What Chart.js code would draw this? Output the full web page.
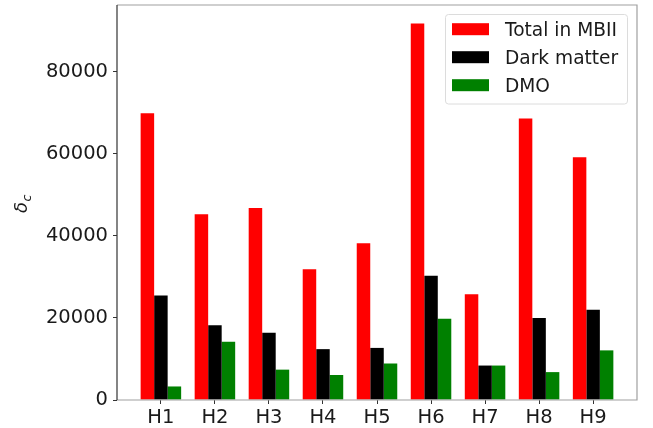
<!DOCTYPE html>
<html>
<head>
<meta charset="utf-8">
<script src="https://cdn.jsdelivr.net/npm/chart.js@4"></script>
<style>
html,body{margin:0;padding:0;background:#fff;}
#wrap{width:653px;height:428px;position:relative;}
</style>
</head>
<body>
<div id="wrap"><canvas id="c" width="653" height="428"></canvas></div>
<script>
const categories = ["H1","H2","H3","H4","H5","H6","H7","H8","H9"];
const totalMBII = [69900, 45300, 46800, 31900, 38200, 91800, 25800, 68600, 59200];
const darkMatter = [25500, 18200, 16400, 12400, 12700, 30300, 8400, 20000, 22000];
const dmo = [3300, 14200, 7400, 6100, 8900, 19800, 8400, 6800, 12100];
const yTicks = [0, 20000, 40000, 60000, 80000];
const seriesNames = ["Total in MBII", "Dark matter", "DMO"];
const seriesColors = ["#ff0000", "#000000", "#008000"];

const FONT = "'DejaVu Sans', sans-serif";
const toPts = arr => arr.map((v, i) => ({x: i, y: v}));

const spinesPlugin = {
  id: 'spines',
  afterDraw(chart) {
    const {ctx, chartArea: a} = chart;
    ctx.save();
    ctx.lineWidth = 1.2;
    ctx.strokeStyle = '#a0a0a0';
    ctx.beginPath();
    ctx.moveTo(a.left, a.top); ctx.lineTo(a.right, a.top);
    ctx.lineTo(a.right, a.bottom); ctx.lineTo(a.left, a.bottom);
    ctx.stroke();
    ctx.strokeStyle = '#333333';
    ctx.beginPath();
    ctx.moveTo(a.left, a.top); ctx.lineTo(a.left, a.bottom);
    ctx.stroke();
    ctx.restore();
  }
};

const legendPlugin = {
  id: 'insideLegend',
  afterDraw(chart) {
    const ctx = chart.ctx;
    ctx.save();
    const bx = 445.5, by = 14.5, bw = 182, bh = 89.5, r = 3;
    ctx.beginPath();
    ctx.moveTo(bx + r, by);
    ctx.arcTo(bx + bw, by, bx + bw, by + bh, r);
    ctx.arcTo(bx + bw, by + bh, bx, by + bh, r);
    ctx.arcTo(bx, by + bh, bx, by, r);
    ctx.arcTo(bx, by, bx + bw, by, r);
    ctx.closePath();
    ctx.fillStyle = 'rgba(255,255,255,0.85)';
    ctx.fill();
    ctx.strokeStyle = '#dcdcdc';
    ctx.lineWidth = 1;
    ctx.stroke();
    ctx.font = '18.6px ' + FONT;
    ctx.textBaseline = 'alphabetic';
    chart.data.datasets.forEach((ds, i) => {
      const cy = 29.2 + i * 28;
      ctx.fillStyle = ds.backgroundColor;
      ctx.fillRect(452, cy - 6, 37, 12);
      ctx.fillStyle = '#1a1a1a';
      ctx.fillText(ds.label, 505, cy + 6.8);
    });
    ctx.restore();
  }
};

const yLabelPlugin = {
  id: 'yLabel',
  afterDraw(chart) {
    const ctx = chart.ctx;
    ctx.save();
    ctx.translate(27, 213);
    ctx.rotate(-Math.PI / 2);
    ctx.fillStyle = '#1a1a1a';
    ctx.textBaseline = 'alphabetic';
    ctx.font = 'italic 18px ' + FONT;
    ctx.fillText('δ', 0, 0);
    const w = ctx.measureText('δ').width;
    ctx.font = 'italic 12.5px ' + FONT;
    ctx.fillText('c', w + 0.5, 3.5);
    ctx.restore();
  }
};

const datasetsValues = [totalMBII, darkMatter, dmo];

new Chart(document.getElementById('c'), {
  type: 'bar',
  data: {
    datasets: datasetsValues.map((vals, i) => ({
      label: seriesNames[i],
      data: toPts(vals),
      backgroundColor: seriesColors[i],
      borderWidth: 0,
      categoryPercentage: 0.75,
      barPercentage: 1.0
    }))
  },
  options: {
    responsive: false,
    animation: false,
    events: [],
    layout: {padding: {left: 0, top: 5, right: 16, bottom: 0}},
    plugins: {legend: {display: false}, tooltip: {enabled: false}},
    scales: {
      x: {
        type: 'linear',
        min: -0.8125,
        max: 8.8125,
        offset: false,
        afterFit(s) { s.height = 28; s.paddingLeft = 0; s.paddingRight = 0; },
        afterBuildTicks(s) { s.ticks = categories.map((_, i) => ({value: i})); },
        grid: {offset: false, drawOnChartArea: false, drawTicks: true, tickLength: 4, tickColor: '#333', tickWidth: 1},
        border: {display: false},
        ticks: {
          autoSkip: false,
          maxRotation: 0,
          padding: 2,
          color: '#1a1a1a',
          font: {family: FONT, size: 19.5},
          callback: v => categories[v] ?? ''
        }
      },
      y: {
        min: 0,
        max: 96300,
        afterFit(s) { s.width = 117; s.paddingTop = 0; s.paddingBottom = 0; },
        afterBuildTicks(s) { s.ticks = yTicks.map(v => ({value: v})); },
        grid: {drawOnChartArea: false, drawTicks: true, tickLength: 4, tickColor: '#333', tickWidth: 1},
        border: {display: false},
        ticks: {
          padding: 5,
          color: '#1a1a1a',
          font: {family: FONT, size: 19.5},
          callback: v => String(v)
        }
      }
    }
  },
  plugins: [spinesPlugin, legendPlugin, yLabelPlugin]
});
</script>
</body>
</html>
